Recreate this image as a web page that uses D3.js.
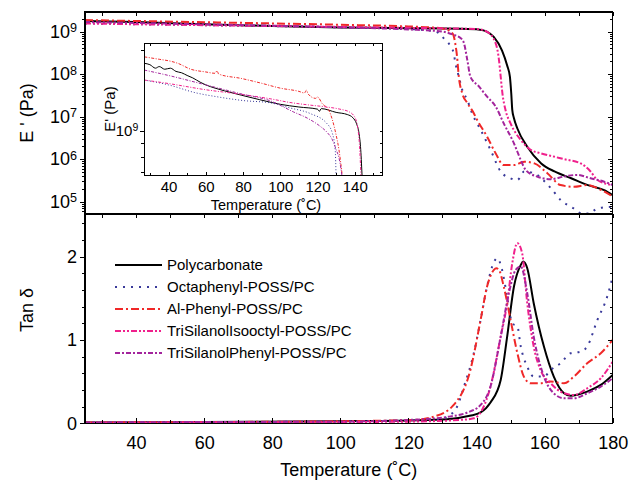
<!DOCTYPE html>
<html>
<head>
<meta charset="utf-8">
<title>DMA of POSS/PC blends</title>
<style>
body { margin: 0; background: #fff; }
svg { background: #fff; font-family: Arial, "Liberation Sans", sans-serif; }
.axis path { display: none; }
.axis line { stroke: #000; stroke-width: 1px; shape-rendering: crispEdges; }
.frame { fill: none; stroke: #000; stroke-width: 1.4px; shape-rendering: crispEdges; }
.inframe { fill: none; stroke: #000; stroke-width: 1.2px; shape-rendering: crispEdges; }
.curve { fill: none; }
</style>
</head>
<body>
<svg width="640" height="480"></svg>
<script src="https://d3js.org/d3.v7.min.js"></script>
<script>
// legend / series
var seriesNames = ["Polycarbonate", "Octaphenyl-POSS/PC", "Al-Phenyl-POSS/PC", "TriSilanolIsooctyl-POSS/PC", "TriSilanolPhenyl-POSS/PC"];
var seriesColors = ["#000000", "#3a3a9a", "#f02828", "#f0208c", "#a3249c"];
var seriesDash = ["none", "2,6", "8,3,2,3", "6,2,2,2,2,2", "5,2,2,2"];

// ticks
var tempTicks = [40, 60, 80, 100, 120, 140, 160, 180];
var tempMinor = [30, 50, 70, 90, 110, 130, 150, 170];
var modTicks = [1e5, 1e6, 1e7, 1e8, 1e9];
var tanTicks = [0, 1, 2];
var tanMinor = [0.2, 0.4, 0.6, 0.8, 1.2, 1.4, 1.6, 1.8, 2.2, 2.4];
var insetTicks = [40, 60, 80, 100, 120, 140];
var insetMinor = [30, 50, 70, 90, 110, 130, 150];
var insetModTicks = [1e9];
var insetModMinor = [7e8, 8e8, 9e8, 2e9];

// storage modulus, [temperature, log10 E' (Pa)]
var logE_PC = [[25,9.25],[40,9.225],[60,9.17],[80,9.13],[100,9.098],[120,9.08],[135,9.065],[141,9.045],[143,9.0],[145,8.88],[147.5,8.55],[149,8.2],[149.8,7.94],[150.2,7.55],[150.5,7.16],[151,6.96],[152,6.72],[154.9,6.29],[159,5.9],[162.9,5.71],[167.8,5.55],[172.7,5.39],[177.5,5.27],[180,5.15]];
var logE_Octa = [[25,9.19],[60,9.15],[100,9.1],[120,9.06],[128,9.0],[130.4,8.84],[132.4,8.65],[133.3,8.49],[133.8,8.26],[134.8,7.94],[135.8,7.63],[137.3,7.39],[138.7,7.08],[141.2,6.69],[144.1,6.22],[147.1,5.71],[150,5.55],[152,5.51],[154,5.71],[156.8,5.67],[161.8,5.32],[164.7,5.04],[168.6,4.84],[171,4.72],[173,4.72],[175.5,4.84],[180,4.88]];
var logE_AlPh = [[25,9.27],[60,9.22],[100,9.16],[120,9.12],[128,9.09],[131,9.05],[133,8.95],[133.8,8.7],[134.3,8.4],[134.8,7.94],[135.8,7.55],[137.3,7.32],[139.2,7.08],[140.2,6.92],[143.1,6.53],[145.6,6.14],[148,5.86],[151,5.86],[154,5.94],[157,5.9],[160.8,5.67],[164.7,5.39],[168.6,5.35],[172.5,5.39],[176.5,5.28],[180,5.12]];
var logE_Iso = [[25,9.19],[60,9.15],[100,9.11],[130,9.075],[140,9.06],[143,9.0],[145.6,8.73],[146.6,8.33],[147.1,7.94],[147.6,7.55],[148.5,7.16],[150,6.84],[153,6.45],[155.9,6.22],[158.8,6.14],[162.7,6.06],[165.7,6.0],[170.6,5.9],[173.5,5.71],[175.5,5.51],[180,5.39]];
var logE_TSPh = [[25,9.225],[60,9.17],[100,9.1],[120,9.05],[130,9.0],[133,8.93],[135.3,8.85],[136.3,8.73],[137.3,8.33],[138.2,7.94],[140.7,7.71],[143.1,7.47],[145.6,7.24],[148,6.84],[151,6.37],[153,5.98],[154.4,5.75],[157.8,5.59],[161.8,5.53],[165.7,5.59],[169.6,5.63],[173.5,5.55],[177.5,5.47],[180,5.39]];

// inset, [temperature, log10 E' (Pa)]
var inE_PC = [[27,9.25],[30,9.245],[33,9.232],[35,9.238],[38,9.228],[41,9.232],[44,9.22],[47,9.215],[50,9.205],[53,9.196],[57,9.18],[60,9.17],[65,9.158],[70,9.148],[79,9.132],[89,9.115],[100,9.098],[110,9.088],[120,9.08],[121,9.072],[122,9.082],[130,9.068],[136,9.06],[139,9.048],[141,9.025],[142.3,8.99],[143.2,8.93],[144,8.82]];
var inE_Octa = [[27,9.188],[40,9.17],[55,9.14],[66,9.126],[80,9.112],[95,9.103],[105,9.085],[116,9.064],[125,9.027],[128,8.99],[129.5,8.93],[130,8.82]];
var inE_AlPh = [[27,9.274],[35,9.265],[41,9.258],[45,9.25],[52,9.228],[60,9.218],[65,9.213],[66,9.222],[67,9.21],[79,9.194],[90,9.176],[100,9.158],[110,9.146],[113,9.14],[114,9.15],[115,9.136],[119,9.12],[120,9.125],[122.6,9.1],[126,9.077],[128,9.04],[129.8,8.99],[131.5,8.93],[133.5,8.82]];
var inE_Iso = [[27,9.188],[40,9.175],[60,9.152],[78,9.136],[95,9.118],[105,9.105],[116,9.095],[125,9.088],[132,9.08],[137,9.07],[140,9.05],[141.5,9.015],[142.5,8.95],[143.4,8.82]];
var inE_TSPh = [[27,9.225],[40,9.205],[60,9.17],[80,9.135],[95,9.11],[107,9.07],[115,9.045],[121.7,9.015],[125,8.995],[128,8.966],[130,8.93],[131.5,8.9],[133.4,8.82]];

// tan delta, [temperature, tan d]
var tan_PC = [[25,0.01],[60,0.015],[100,0.025],[120,0.035],[131.4,0.05],[138,0.09],[141.2,0.13],[144.1,0.25],[147.1,0.52],[149,1.04],[151,1.64],[153,1.9],[153.7,1.94],[154.9,1.86],[156.8,1.44],[159.8,0.92],[162.7,0.56],[165.7,0.36],[167.6,0.33],[172.5,0.38],[176.5,0.46],[180,0.58]];
var tan_Octa = [[25,0.01],[60,0.015],[100,0.02],[120,0.03],[128.4,0.04],[131.4,0.08],[134.3,0.2],[136.3,0.44],[139.2,0.84],[141.2,1.24],[143.1,1.64],[144.6,1.88],[146.1,1.98],[147.5,1.84],[149,1.52],[150.5,1.2],[152,1.16],[153,0.92],[154.9,0.68],[156.8,0.56],[159.8,0.56],[161.8,0.64],[164.7,0.72],[167.6,0.84],[170.6,0.86],[172.5,0.92],[175.5,1.24],[178.4,1.52],[180,1.76]];
var tan_AlPh = [[25,0.01],[60,0.015],[100,0.025],[121.6,0.04],[127.5,0.08],[133.3,0.22],[138.2,0.64],[141.2,1.24],[143.1,1.64],[145.1,1.84],[145.8,1.86],[146.6,1.84],[148,1.64],[150,1.24],[152,0.84],[153.9,0.56],[155.9,0.48],[158.8,0.48],[161.8,0.5],[165.7,0.48],[168.6,0.56],[172.5,0.72],[176.5,0.84],[180,1.0]];
var tan_Iso = [[25,0.005],[60,0.01],[100,0.015],[120,0.02],[135,0.04],[139.2,0.06],[141.5,0.15],[144.1,0.44],[147.1,1.04],[149,1.44],[150.5,1.92],[152,2.16],[153.4,2.04],[154.9,1.44],[156.8,0.92],[158.8,0.64],[161.8,0.48],[165.7,0.36],[168.6,0.34],[172.5,0.42],[176.5,0.54],[180,0.74]];
var tan_TSPh = [[25,0.01],[60,0.015],[100,0.02],[120,0.04],[132,0.08],[137.3,0.13],[141.2,0.22],[144.1,0.44],[147.1,1.04],[149.5,1.56],[151.5,1.84],[153,1.88],[154.9,1.56],[156.8,1.04],[159.8,0.56],[162.7,0.36],[165.7,0.3],[168.6,0.3],[172.5,0.36],[176.5,0.44],[180,0.54]];

(function() {
  var svg = d3.select("svg");
  var modData = [logE_PC, logE_Octa, logE_AlPh, logE_Iso, logE_TSPh];
  var insetData = [inE_PC, inE_Octa, inE_AlPh, inE_Iso, inE_TSPh];
  var tanData = [tan_PC, tan_Octa, tan_AlPh, tan_Iso, tan_TSPh];

  var left = 85, right = 612.7, top = 12, mid = 214, bottom = 423.3;

  var x = d3.scaleLinear().domain([25, 180]).range([left, right]);
  var yMod = d3.scaleLog().domain([Math.pow(10, 4.71), Math.pow(10, 9.46)]).range([mid, top]);
  var yTan = d3.scaleLinear().domain([0, 2.51]).range([bottom, mid]);

  var inL = 144.3, inR = 382.7, inT = 43.3, inB = 175.7;
  var xIn = d3.scaleLinear().domain([27, 155]).range([inL, inR]);
  var yIn = d3.scaleLog().domain([6.81e8, 2.11e9]).range([inB, inT]);

  var defs = svg.append("defs");
  defs.append("clipPath").attr("id", "clipTop").append("rect")
    .attr("x", left).attr("y", top).attr("width", right - left).attr("height", mid - top);
  defs.append("clipPath").attr("id", "clipBot").append("rect")
    .attr("x", left).attr("y", mid).attr("width", right - left).attr("height", bottom - mid + 2);
  defs.append("clipPath").attr("id", "clipIn").append("rect")
    .attr("x", inL).attr("y", inT).attr("width", inR - inL).attr("height", inB - inT);

  function supLabels(g) {
    g.selectAll(".tick text").each(function(d) {
      var t = d3.select(this).text("");
      t.append("tspan").text("10");
      t.append("tspan").attr("dy", "-0.45em").attr("font-size", "0.7em").text(Math.round(Math.log10(d)));
    });
  }

  // ---- top panel: storage modulus
  var lineMod = d3.line()
    .x(function(d) { return x(d[0]); })
    .y(function(d) { return yMod(Math.pow(10, d[1])); })
    .curve(d3.curveMonotoneX);

  svg.append("g").attr("clip-path", "url(#clipTop)")
    .selectAll("path")
    .data(modData)
    .enter().append("path")
      .attr("class", "curve")
      .attr("d", lineMod)
      .attr("stroke", function(d, i) { return seriesColors[i]; })
      .attr("stroke-width", 2)
      .attr("stroke-dasharray", function(d, i) { return seriesDash[i]; });

  var minorLog = [];
  [4, 5, 6, 7, 8, 9].forEach(function(e) {
    for (var m = 2; m <= 9; m++) {
      var v = m * Math.pow(10, e);
      if (v > yMod.domain()[0] && v < yMod.domain()[1]) minorLog.push(v);
    }
  });

  svg.append("g").attr("class", "axis")
    .attr("transform", "translate(" + left + ",0)")
    .call(d3.axisLeft(yMod).tickValues(modTicks).tickSize(5).tickPadding(3))
    .call(supLabels)
    .attr("font-size", 18).attr("font-family", null);
  svg.append("g").attr("class", "axis")
    .attr("transform", "translate(" + left + ",0)")
    .call(d3.axisLeft(yMod).tickValues(minorLog).tickSize(3).tickFormat(""));
  svg.append("g").attr("class", "axis")
    .attr("transform", "translate(" + right + ",0)")
    .call(d3.axisLeft(yMod).tickValues(modTicks).tickSize(5).tickFormat(""));
  svg.append("g").attr("class", "axis")
    .attr("transform", "translate(" + right + ",0)")
    .call(d3.axisLeft(yMod).tickValues(minorLog).tickSize(3).tickFormat(""));
  svg.append("g").attr("class", "axis")
    .attr("transform", "translate(0," + top + ")")
    .call(d3.axisBottom(x).tickValues(tempTicks.concat(tempMinor)).tickSize(4).tickFormat(""));

  svg.append("rect").attr("class", "frame")
    .attr("x", left).attr("y", top).attr("width", right - left).attr("height", mid - top);

  svg.append("text")
    .attr("transform", "translate(33," + (top + mid) / 2 + ") rotate(-90)")
    .attr("text-anchor", "middle")
    .attr("font-size", 18)
    .text("E ' (Pa)");

  // ---- inset
  svg.append("rect").attr("x", inL).attr("y", inT).attr("width", inR - inL).attr("height", inB - inT).attr("fill", "#fff");

  var lineIn = d3.line()
    .x(function(d) { return xIn(d[0]); })
    .y(function(d) { return yIn(Math.pow(10, d[1])); })
    .curve(d3.curveMonotoneX);

  svg.append("g").attr("clip-path", "url(#clipIn)")
    .selectAll("path")
    .data(insetData)
    .enter().append("path")
      .attr("class", "curve")
      .attr("d", lineIn)
      .attr("stroke", function(d, i) { return seriesColors[i]; })
      .attr("stroke-width", 1)
      .attr("stroke-dasharray", function(d, i) { return i == 0 ? "none" : (i == 1 ? "1,2" : "3,1.5,1,1.5"); });

  svg.append("g").attr("class", "axis")
    .attr("transform", "translate(0," + inB + ")")
    .call(d3.axisBottom(xIn).tickValues(insetTicks).tickSize(-4).tickPadding(6))
    .attr("font-size", 15).attr("font-family", null);
  svg.append("g").attr("class", "axis")
    .attr("transform", "translate(0," + inB + ")")
    .call(d3.axisBottom(xIn).tickValues(insetMinor).tickSize(-3).tickFormat(""));
  svg.append("g").attr("class", "axis")
    .attr("transform", "translate(0," + inT + ")")
    .call(d3.axisBottom(xIn).tickValues(insetTicks.concat(insetMinor)).tickSize(3).tickFormat(""));
  svg.append("g").attr("class", "axis")
    .attr("transform", "translate(" + inL + ",0)")
    .call(d3.axisLeft(yIn).tickValues(insetModTicks).tickSize(4).tickPadding(2))
    .call(supLabels)
    .attr("font-size", 15).attr("font-family", null);
  svg.append("g").attr("class", "axis")
    .attr("transform", "translate(" + inL + ",0)")
    .call(d3.axisLeft(yIn).tickValues(insetModMinor).tickSize(3).tickFormat(""));
  svg.append("g").attr("class", "axis")
    .attr("transform", "translate(" + inR + ",0)")
    .call(d3.axisLeft(yIn).tickValues(insetModTicks.concat(insetModMinor)).tickSize(3).tickFormat(""));

  svg.append("rect").attr("class", "inframe")
    .attr("x", inL).attr("y", inT).attr("width", inR - inL).attr("height", inB - inT);

  svg.append("text")
    .attr("transform", "translate(115,109) rotate(-90)")
    .attr("text-anchor", "middle")
    .attr("font-size", 15)
    .text("E' (Pa)");
  svg.append("text")
    .attr("x", 266).attr("y", 210)
    .attr("text-anchor", "middle")
    .attr("font-size", 14.5)
    .text("Temperature (\u02DAC)");

  // ---- bottom panel: tan delta
  var lineTan = d3.line()
    .x(function(d) { return x(d[0]); })
    .y(function(d) { return yTan(d[1]); })
    .curve(d3.curveMonotoneX);

  svg.append("g").attr("clip-path", "url(#clipBot)")
    .selectAll("path")
    .data(tanData)
    .enter().append("path")
      .attr("class", "curve")
      .attr("d", lineTan)
      .attr("stroke", function(d, i) { return seriesColors[i]; })
      .attr("stroke-width", 2)
      .attr("stroke-dasharray", function(d, i) { return seriesDash[i]; });

  svg.append("g").attr("class", "axis")
    .attr("transform", "translate(" + left + ",0)")
    .call(d3.axisLeft(yTan).tickValues(tanTicks).tickSize(5).tickPadding(3).tickFormat(d3.format("d")))
    .attr("font-size", 18).attr("font-family", null);
  svg.append("g").attr("class", "axis")
    .attr("transform", "translate(" + left + ",0)")
    .call(d3.axisLeft(yTan).tickValues(tanMinor).tickSize(3).tickFormat(""));
  svg.append("g").attr("class", "axis")
    .attr("transform", "translate(" + right + ",0)")
    .call(d3.axisLeft(yTan).tickValues(tanTicks).tickSize(5).tickFormat(""));
  svg.append("g").attr("class", "axis")
    .attr("transform", "translate(" + right + ",0)")
    .call(d3.axisLeft(yTan).tickValues(tanMinor).tickSize(3).tickFormat(""));
  svg.append("g").attr("class", "axis")
    .attr("transform", "translate(0," + bottom + ")")
    .call(d3.axisBottom(x).tickValues(tempTicks).tickSize(-5).tickPadding(13))
    .attr("font-size", 18).attr("font-family", null);
  svg.append("g").attr("class", "axis")
    .attr("transform", "translate(0," + bottom + ")")
    .call(d3.axisBottom(x).tickValues(tempMinor).tickSize(-3).tickFormat(""));
  svg.append("g").attr("class", "axis")
    .attr("transform", "translate(0," + mid + ")")
    .call(d3.axisBottom(x).tickValues(tempTicks.concat(tempMinor)).tickSize(4).tickFormat(""));

  svg.append("rect").attr("class", "frame")
    .attr("x", left).attr("y", mid).attr("width", right - left).attr("height", bottom - mid);

  svg.append("text")
    .attr("transform", "translate(33,310) rotate(-90)")
    .attr("text-anchor", "middle")
    .attr("font-size", 18)
    .text("Tan \u03B4");
  svg.append("text")
    .attr("x", (left + right) / 2).attr("y", 476)
    .attr("text-anchor", "middle")
    .attr("font-size", 18)
    .text("Temperature (\u02DAC)");

  // ---- legend
  var legend = svg.append("g")
    .attr("font-size", 15)
    .selectAll("g")
    .data(seriesNames)
    .enter().append("g")
      .attr("transform", function(d, i) { return "translate(115," + (265 + i * 22) + ")"; });

  legend.append("line")
    .attr("x1", 0).attr("x2", 47)
    .attr("stroke", function(d, i) { return seriesColors[i]; })
    .attr("stroke-width", 2)
    .attr("stroke-dasharray", function(d, i) { return seriesDash[i]; });

  legend.append("text")
    .attr("x", 52)
    .attr("dy", "0.35em")
    .text(function(d) { return d; });
})();
</script>
</body>
</html>
